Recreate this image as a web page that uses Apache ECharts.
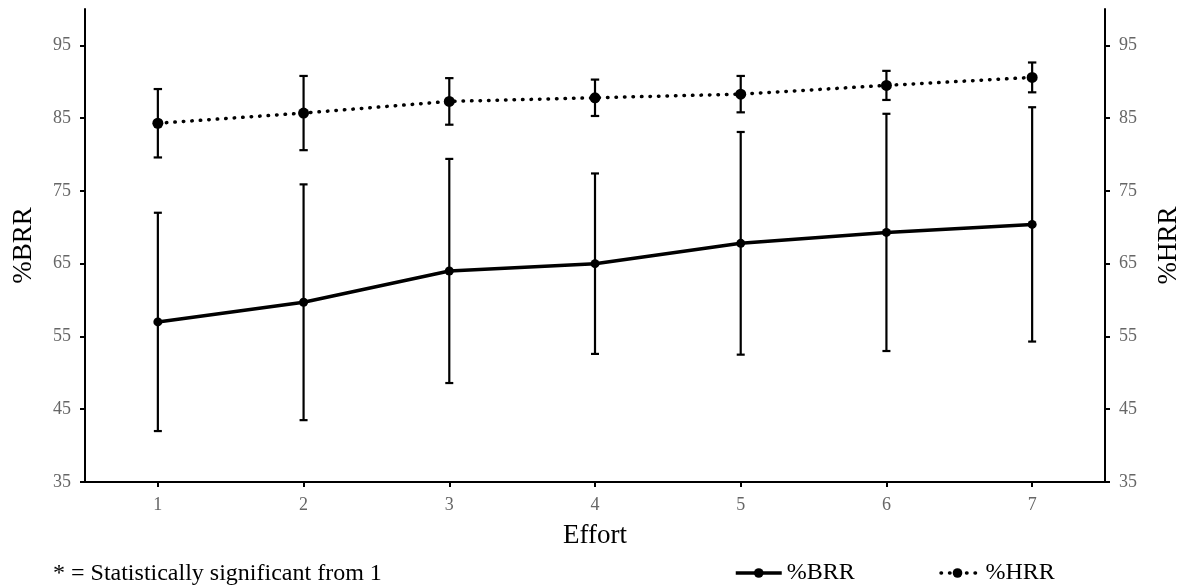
<!DOCTYPE html>
<html>
<head>
<meta charset="utf-8">
<script src="https://cdn.jsdelivr.net/npm/echarts@6/dist/echarts.min.js"></script>
<style>
  html, body { margin: 0; padding: 0; background: #fff; overflow: hidden; }
  #chart { width: 1190px; height: 588px; }
</style>
</head>
<body>
<div id="chart"></div>
<script>
// Effort levels on the x axis
const categories = ['1', '2', '3', '4', '5', '6', '7'];
// %BRR mean and standard deviation per effort level
const brrMean = [57.0, 59.7, 64.0, 65.0, 67.8, 69.3, 70.4];
const brrSD   = [15.0, 16.2, 15.4, 12.4, 15.3, 16.3, 16.1];
// %HRR mean and standard deviation per effort level
const hrrMean = [84.3, 85.7, 87.3, 87.8, 88.3, 89.5, 90.6];
const hrrSD   = [4.7, 5.1, 3.2, 2.5, 2.5, 2.0, 2.05];
// Shared y-axis tick values (both axes use the same scale)
const yTicks = [35, 45, 55, 65, 75, 85, 95];
const yMin = 35, yMax = 100;

const SERIF = '"Liberation Serif", "DejaVu Serif", serif';
const TICK_GRAY = '#666';
const BRR_LINE = { color: '#000', width: 3.5 };
const HRR_LINE = { color: '#000', width: 3.5, type: [0.5, 8], cap: 'round' };

function errorData(mean, sd) {
  return mean.map((m, i) => [i, m - sd[i], m + sd[i]]);
}

// Vertical error bar with flat caps at both ends
function errorBarRenderer(capHalf, width) {
  return function (params, api) {
    const x = api.value(0);
    const lo = api.coord([x, api.value(1)]);
    const hi = api.coord([x, api.value(2)]);
    const style = { stroke: '#000', lineWidth: width, fill: null };
    return {
      type: 'group',
      children: [
        { type: 'line', shape: { x1: lo[0], y1: lo[1], x2: hi[0], y2: hi[1] }, style },
        { type: 'line', shape: { x1: lo[0] - capHalf, y1: lo[1], x2: lo[0] + capHalf, y2: lo[1] }, style },
        { type: 'line', shape: { x1: hi[0] - capHalf, y1: hi[1], x2: hi[0] + capHalf, y2: hi[1] }, style }
      ]
    };
  };
}

function valueAxis(position, name, gap) {
  return {
    type: 'value',
    position: position,
    min: yMin,
    max: yMax,
    name: name,
    nameLocation: 'middle',
    nameGap: gap,
    nameRotate: 90,
    nameTextStyle: { fontFamily: SERIF, fontSize: 27, color: '#000' },
    axisLine: { show: true, lineStyle: { color: '#000', width: 2 } },
    axisTick: { show: true, length: 5, customValues: yTicks, lineStyle: { color: '#000', width: 2 } },
    axisLabel: { customValues: yTicks, margin: 14, fontFamily: SERIF, fontSize: 18, color: TICK_GRAY },
    splitLine: { show: false }
  };
}

const chart = echarts.init(document.getElementById('chart'), null, { renderer: 'canvas' });

chart.setOption({
  animation: false,
  backgroundColor: '#fff',
  grid: { left: 85, right: 81, top: 9, bottom: 106, containLabel: false },
  xAxis: {
    type: 'category',
    data: categories,
    boundaryGap: true,
    name: 'Effort',
    nameLocation: 'middle',
    nameGap: 40,
    nameTextStyle: { fontFamily: SERIF, fontSize: 27, color: '#000' },
    axisLine: { show: true, lineStyle: { color: '#000', width: 2 } },
    axisTick: { show: true, alignWithLabel: true, length: 5, lineStyle: { color: '#000', width: 2 } },
    axisLabel: { margin: 14, fontFamily: SERIF, fontSize: 18, color: TICK_GRAY },
    splitLine: { show: false }
  },
  yAxis: [
    valueAxis('left', '%BRR', 48),
    valueAxis('right', '%HRR', 50)
  ],
  legend: {
    left: 729,
    top: 555,
    itemWidth: 46,
    itemHeight: 12,
    itemGap: 78,
    textStyle: { fontFamily: SERIF, fontSize: 24, color: '#000', lineHeight: 26 },
    data: [
      { name: '%BRR', lineStyle: BRR_LINE },
      { name: '%HRR', lineStyle: { color: '#000', width: 3.5, type: [0.5, 8], cap: 'round', dashOffset: 2 } }
    ]
  },
  graphic: [
    {
      type: 'text',
      left: 53,
      top: 562,
      style: {
        text: '* = Statistically significant from 1',
        font: '24px ' + SERIF,
        fill: '#000'
      }
    }
  ],
  series: [
    {
      name: 'BRR error',
      type: 'custom',
      yAxisIndex: 0,
      renderItem: errorBarRenderer(4, 2.2),
      data: errorData(brrMean, brrSD),
      z: 2,
      silent: true
    },
    {
      name: 'HRR error',
      type: 'custom',
      yAxisIndex: 1,
      renderItem: errorBarRenderer(4.2, 2.2),
      data: errorData(hrrMean, hrrSD),
      z: 2,
      silent: true
    },
    {
      name: '%BRR',
      type: 'line',
      yAxisIndex: 0,
      data: brrMean,
      symbol: 'circle',
      symbolSize: 9,
      itemStyle: { color: '#000' },
      lineStyle: BRR_LINE,
      z: 3
    },
    {
      name: '%HRR',
      type: 'line',
      yAxisIndex: 1,
      data: hrrMean,
      symbol: 'circle',
      symbolSize: 11,
      itemStyle: { color: '#000' },
      lineStyle: HRR_LINE,
      z: 3
    }
  ]
});
</script>
</body>
</html>
